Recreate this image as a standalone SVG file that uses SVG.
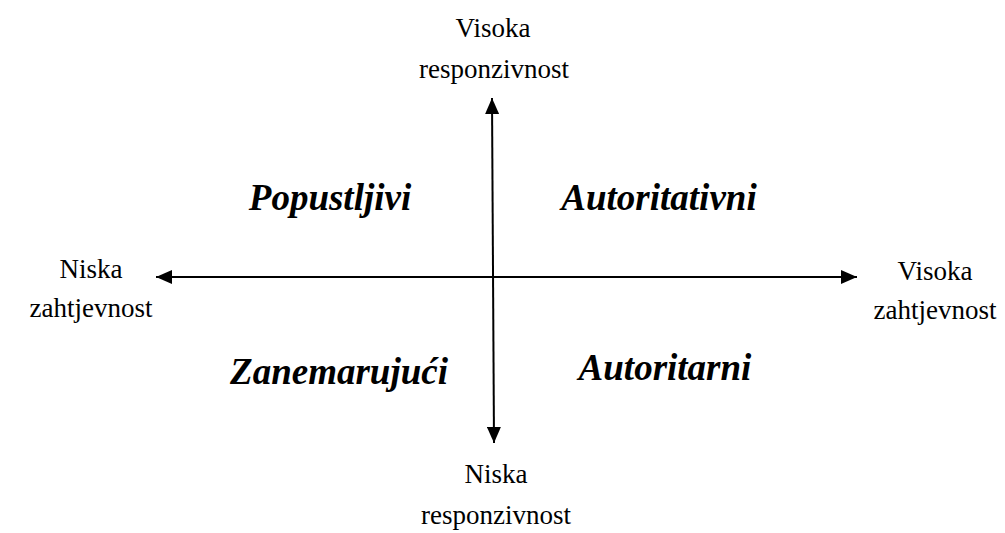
<svg xmlns="http://www.w3.org/2000/svg" width="1005" height="533" viewBox="0 0 1005 533">
<style>
text{font-family:'Liberation Serif','Times New Roman',Times,serif;fill:#000;text-anchor:middle}
.ax{font-size:27px}
.q{font-size:37px;font-weight:bold;font-style:italic}
.ln{stroke:#000;stroke-width:2;fill:none}
</style>
<defs>
<marker id="ah" viewBox="0 0 16 14" refX="16" refY="7" markerWidth="16" markerHeight="14" markerUnits="userSpaceOnUse" orient="auto-start-reverse">
<path d="M0,0 L16,7 L0,14 Z" fill="#000"/>
</marker>
</defs>
<rect width="1005" height="533" fill="#fff"/>
<g id="connectors">
<path class="ln" d="M492,98 L494,443" marker-start="url(#ah)" marker-end="url(#ah)"/>
<path class="ln" d="M156,277 L857,277" marker-start="url(#ah)" marker-end="url(#ah)"/>
</g>
<g id="top-label"><text class="ax" x="493" y="37">Visoka</text><text class="ax" x="494" y="78">responzivnost</text></g>
<g id="bottom-label"><text class="ax" x="496" y="483">Niska</text><text class="ax" x="496" y="524">responzivnost</text></g>
<g id="left-label"><text class="ax" x="91" y="278">Niska</text><text class="ax" x="91" y="317">zahtjevnost</text></g>
<g id="right-label"><text class="ax" x="935" y="280">Visoka</text><text class="ax" x="935" y="319">zahtjevnost</text></g>
<g id="popustljivi"><text class="q" x="330" y="210">Popustljivi</text></g>
<g id="autoritativni"><text class="q" x="659" y="210">Autoritativni</text></g>
<g id="zanemarujuci"><text class="q" x="339" y="384">Zanemarujući</text></g>
<g id="autoritarni"><text class="q" x="665" y="380">Autoritarni</text></g>
</svg>
